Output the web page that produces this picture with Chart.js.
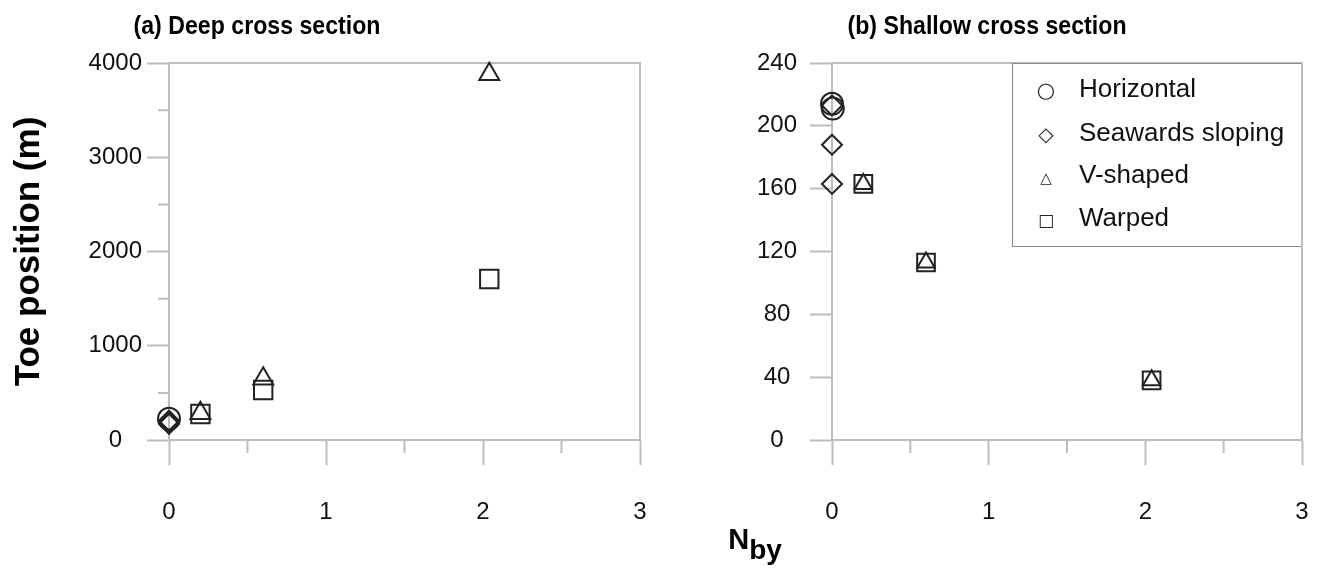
<!DOCTYPE html>
<html>
<head>
<meta charset="utf-8">
<script src="https://cdn.jsdelivr.net/npm/chart.js@4.4.1/dist/chart.umd.min.js"></script>
<style>
  body { margin: 0; background: #fff; font-family: "Liberation Sans", Arial, sans-serif; }
  #wrap { position: relative; width: 1326px; height: 571px; overflow: hidden; }
  canvas { position: absolute; top: 0; }
  #deepChart { left: 0; }
  #shallowChart { left: 660px; }
  .ttl { position: absolute; top: 10px; font-weight: bold; font-size: 26px; transform: translateX(-50%) scaleX(0.89); white-space: nowrap; color: #000; }
  #xlab { position: absolute; left: 755px; top: 523px; transform: translateX(-50%); font-weight: bold; font-size: 29px; white-space: nowrap; }
  #xlab sub { font-size: 28px; vertical-align: -10px; }
  #legend { position: absolute; left: 1012px; top: 63px; width: 288px; height: 182px; border: 1px solid #8a8a8a; border-right: none; }
  .lg { position: absolute; left: 0; height: 30px; line-height: 30px; font-size: 26px; color: #111; white-space: nowrap; }
  .lg .sym { display: inline-block; width: 66px; text-align: center; font-family: "DejaVu Sans", sans-serif; color: #222; }
</style>
</head>
<body>
<div id="wrap">
  <canvas id="deepChart" width="660" height="571"></canvas>
  <canvas id="shallowChart" width="666" height="571"></canvas>
  <div class="ttl" style="left:257px">(a) Deep cross section</div>
  <div class="ttl" style="left:987px">(b) Shallow cross section</div>
  <div id="xlab">N<sub>by</sub></div>
  <div id="legend">
    <div class="lg" style="top:9px"><span class="sym" style="font-size:21px">○</span>Horizontal</div>
    <div class="lg" style="top:53px"><span class="sym" style="font-size:20px">◇</span>Seawards sloping</div>
    <div class="lg" style="top:95px"><span class="sym" style="font-size:15px">△</span>V-shaped</div>
    <div class="lg" style="top:138px"><span class="sym" style="font-size:17px">□</span>Warped</div>
  </div>
</div>
<script>
// ---- data: (a) deep cross section ----
const deepHorizX = [0];
const deepHorizY = [225];
const deepSlopeX = [0, 0, 0];
const deepSlopeY = [205, 188, 172];
const deepVX = [0.2, 0.6, 2.04];
const deepVY = [285, 650, 3880];
const deepWarpX = [0.2, 0.6, 2.04];
const deepWarpY = [276, 530, 1708];

// ---- data: (b) shallow cross section ----
const shalHorizX = [0, 0.005];
const shalHorizY = [214, 211];
const shalSlopeX = [0, 0, 0];
const shalSlopeY = [213, 188, 163];
const shalVX = [0.2, 0.6, 2.04];
const shalVY = [163, 113, 38];
const shalWarpX = [0.2, 0.6, 2.04];
const shalWarpY = [163, 113, 38];

// ---- tick labels ----
const xTickLabels = [0, 1, 2, 3];
const deepYTickLabels = [0, 1000, 2000, 3000, 4000];
const shalYTickLabels = [0, 40, 80, 120, 160, 200, 240];

const GREY = '#bdbdbd';
const MARK = '#222';
const FONT = '"Liberation Sans", Arial, sans-serif';

function pts(xs, ys) {
  return xs.map((x, i) => ({ x: x, y: ys[i] }));
}

function series(label, xs, ys, style, radius) {
  return {
    label: label,
    data: pts(xs, ys),
    pointStyle: style,
    pointRadius: radius,
    pointBorderWidth: 2,
    borderColor: MARK,
    backgroundColor: 'rgba(0,0,0,0)',
    showLine: false,
    clip: false,
  };
}

// frame (top + right) and the short minor ticks
const frameAndMinor = {
  id: 'frameAndMinor',
  beforeDatasetsDraw(chart) {
    const { ctx, chartArea: a, scales: { x, y } } = chart;
    const yLabels = chart.options.plugins.frameAndMinor.yLabels;
    ctx.save();
    ctx.strokeStyle = GREY;
    ctx.lineWidth = 2;
    ctx.beginPath();
    ctx.moveTo(a.left, a.top);
    ctx.lineTo(a.right, a.top);
    ctx.lineTo(a.right, a.bottom);
    y.ticks.forEach(t => {
      if (!yLabels.includes(t.value)) {
        const py = y.getPixelForValue(t.value);
        ctx.moveTo(a.left - 11, py);
        ctx.lineTo(a.left, py);
      }
    });
    x.ticks.forEach(t => {
      if (Math.abs(t.value - Math.round(t.value)) > 1e-6) {
        const px = x.getPixelForValue(t.value);
        ctx.moveTo(px, a.bottom);
        ctx.lineTo(px, a.bottom + 13);
      }
    });
    ctx.stroke();
    ctx.restore();
  }
};

function makePanel(id, datasets, yMax, yStep, yLabels, opt) {
  return new Chart(document.getElementById(id), {
    type: 'scatter',
    data: { datasets: datasets },
    plugins: [frameAndMinor],
    options: {
      responsive: false,
      devicePixelRatio: 1,
      animation: false,
      layout: { padding: { top: 63, right: opt.right, bottom: 0, left: 0 } },
      plugins: {
        legend: { display: false },
        tooltip: { enabled: false },
        frameAndMinor: { yLabels: yLabels },
      },
      scales: {
        x: {
          type: 'linear',
          min: 0,
          max: 3,
          // label padding would otherwise push the right edge in
          afterFit: s => { s.height = 131; s.paddingRight = 0; },
          ticks: {
            stepSize: 0.5,
            padding: 33,
            color: '#111',
            font: { family: FONT, size: 24 },
            callback: v => (xTickLabels.includes(v) ? String(v) : ''),
          },
          grid: {
            drawOnChartArea: false,
            tickLength: 25,
            tickWidth: 2,
            tickColor: c => (xTickLabels.includes(c.tick.value) ? GREY : 'rgba(0,0,0,0)'),
          },
          border: { color: GREY, width: 2 },
        },
        y: {
          type: 'linear',
          min: 0,
          max: yMax,
          afterFit: s => { s.width = opt.left; },
          ticks: {
            stepSize: yStep,
            padding: opt.pad,
            crossAlign: 'center',
            color: '#111',
            font: { family: FONT, size: 24 },
            callback: v => (yLabels.includes(v) ? String(v) : ''),
          },
          grid: {
            drawOnChartArea: false,
            tickLength: 22,
            tickWidth: 2,
            tickColor: c => (yLabels.includes(c.tick.value) ? GREY : 'rgba(0,0,0,0)'),
          },
          border: { color: GREY, width: 2 },
          title: {
            display: opt.title !== '',
            text: opt.title,
            color: '#000',
            font: { family: FONT, size: 35, weight: 'bold' },
            padding: { top: 8, bottom: 0 },
          },
        },
      },
    },
  });
}

makePanel('deepChart', [
  series('Horizontal', deepHorizX, deepHorizY, 'circle', 11),
  series('Seawards sloping', deepSlopeX, deepSlopeY, 'rectRot', 10),
  series('V-shaped', deepVX, deepVY, 'triangle', 11.5),
  series('Warped', deepWarpX, deepWarpY, 'rect', 13),
], 4000, 500, deepYTickLabels, { left: 169, right: 20, pad: 5, title: 'Toe position (m)' });

makePanel('shallowChart', [
  series('Horizontal', shalHorizX, shalHorizY, 'circle', 11),
  series('Seawards sloping', shalSlopeX, shalSlopeY, 'rectRot', 10),
  series('V-shaped', shalVX, shalVY, 'triangle', 10),
  series('Warped', shalWarpX, shalWarpY, 'rect', 12.5),
], 240, 20, shalYTickLabels, { left: 172, right: 24, pad: 13, title: '' });
</script>
</body>
</html>
